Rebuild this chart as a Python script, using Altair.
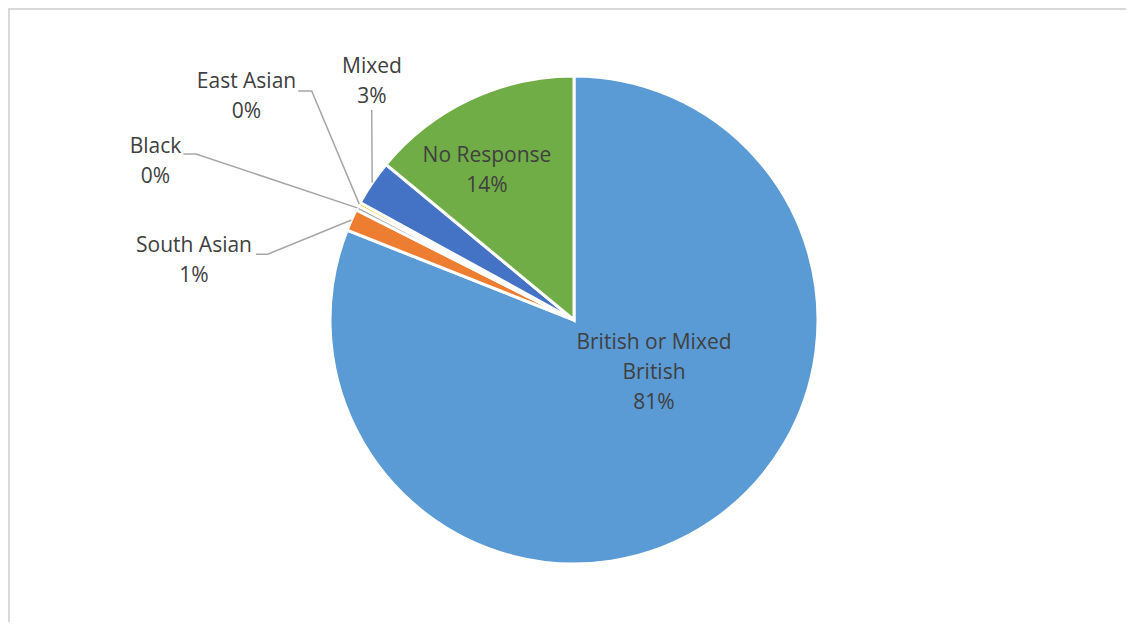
import math
import altair as alt
import pandas as pd

# ---- data ----
categories = ["British or Mixed British", "South Asian", "Black", "East Asian", "Mixed", "No Response"]
values = [81.0, 1.45, 0.3, 0.25, 3.0, 14.0]
colors = ["#5B9BD5", "#ED7D31", "#A5A5A5", "#FFC000", "#4472C4", "#70AD47"]
display_names = ["British or Mixed\nBritish", "South Asian", "Black", "East Asian", "Mixed", "No Response"]

# ---- layout (chart pixel space) ----
W, H = 1118, 614
CX, CY, R = 566, 312, 244
label_x = [646, 186, 147.5, 238.5, 364, 479]
label_y = [335, 238, 139, 74, 59, 148]   # centre of first text line
leader_start = [None, (248, 246.3), (175.3, 146), (290.3, 83), (363.7, 102), None]
leader_elbow = [None, (259.7, 246.3), (188, 146), (303.7, 83), (363.7, 102), None]

FONT = "Open Sans"
FS = 21
TXT = "#404040"

total = sum(values)
pie_df = pd.DataFrame({"category": categories, "value": values, "idx": list(range(len(categories)))})

lab_rows = []
line_rows = []
cum = 0.0
for i, (c, v) in enumerate(zip(categories, values)):
    pct = v / total * 100
    mid = (cum + v / 2) / total * 2 * math.pi
    cum += v
    lab_rows.append({"lx": label_x[i], "ly": label_y[i], "text": f"{display_names[i]}\n{round(pct)}%"})
    if leader_start[i] is not None:
        rx = CX + R * math.sin(mid)
        ry = CY - R * math.cos(mid)
        pts = [leader_start[i], leader_elbow[i], (rx, ry)]
        for s, (px, py) in enumerate(pts):
            line_rows.append({"label": c, "step": s, "px": px, "py": py})

lab_df = pd.DataFrame(lab_rows)
line_df = pd.DataFrame(line_rows)

xs = alt.Scale(domain=[0, W], nice=False, zero=False)
ys = alt.Scale(domain=[0, H], nice=False, zero=False, reverse=True)

arc = alt.Chart(pie_df).mark_arc(radius=R, stroke="white", strokeWidth=3).encode(
    theta=alt.Theta("value:Q", stack=True),
    color=alt.Color("category:N", scale=alt.Scale(domain=categories, range=colors), legend=None),
    order=alt.Order("idx:Q"),
    x=alt.value(CX),
    y=alt.value(CY),
)

lines = alt.Chart(line_df).mark_line(color="#A6A6A6", strokeWidth=1.5).encode(
    x=alt.X("px:Q", scale=xs, axis=None),
    y=alt.Y("py:Q", scale=ys, axis=None),
    detail="label:N",
    order="step:Q",
)

texts = alt.Chart(lab_df).mark_text(
    font=FONT, fontSize=FS, color=TXT, lineBreak="\n", lineHeight=30,
    align="center", baseline="middle",
).encode(
    x=alt.X("lx:Q", scale=xs, axis=None),
    y=alt.Y("ly:Q", scale=ys, axis=None),
    text="text:N",
)

border_df = pd.DataFrame({"a": [0]})
top_border = alt.Chart(border_df).mark_rule(color="#D9D9D9", strokeWidth=2).encode(
    x=alt.value(0), x2=alt.value(W), y=alt.value(1)
)
left_border = alt.Chart(border_df).mark_rule(color="#D9D9D9", strokeWidth=2).encode(
    x=alt.value(1), y=alt.value(0), y2=alt.value(H)
)

chart = alt.layer(top_border, left_border, arc, lines, texts).properties(
    width=W, height=H, padding=0, autosize=alt.AutoSizeParams(type="none")
).configure_view(stroke=None).configure(background="white")

chart.save("out.html", embed_options={"renderer": "svg", "actions": False})
